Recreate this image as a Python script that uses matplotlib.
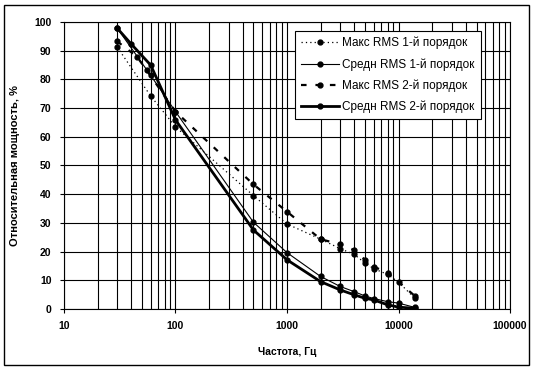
import matplotlib
matplotlib.use('Agg')
import matplotlib.pyplot as plt
from matplotlib.patches import Rectangle

plt.rcParams['font.family'] = ['Liberation Sans', 'DejaVu Sans']

# Макс RMS 1-й порядок (dotted)
f_max1 = [30, 60, 100, 500, 1000, 2000, 3000, 4000, 5000, 6000, 8000, 10000, 14000]
v_max1 = [91.3, 74.2, 63.5, 39.5, 29.6, 24.3, 21.0, 19.0, 16.0, 14.0, 12.0, 9.3, 3.7]

# Средн RMS 1-й порядок (thin solid)
f_avg1 = [30, 60, 100, 500, 1000, 2000, 3000, 4000, 5000, 6000, 8000, 10000, 14000]
v_avg1 = [97.9, 81.4, 68.8, 30.2, 19.6, 11.3, 7.8, 6.0, 4.5, 3.6, 2.5, 2.0, 0.5]

# Макс RMS 2-й порядок (dashed)
f_max2 = [30, 45, 55, 100, 500, 1000, 2000, 3000, 4000, 5000, 6000, 8000, 14000]
v_max2 = [93.3, 88.0, 83.3, 68.8, 43.4, 33.9, 24.3, 22.5, 20.5, 17.1, 14.7, 12.6, 4.5]

# Средн RMS 2-й порядок (thick solid)
f_avg2 = [30, 40, 60, 100, 500, 1000, 2000, 3000, 4000, 5000, 6000, 8000, 10000, 14000]
v_avg2 = [97.9, 92.4, 85.0, 65.9, 27.5, 17.1, 9.5, 6.6, 4.9, 3.7, 3.1, 1.4, 0.6, 0.2]

fig = plt.figure(figsize=(5.33, 3.69), dpi=100)
ax = fig.add_axes([0.120, 0.163, 0.837, 0.777])

ax.plot(f_max1, v_max1, color='black', lw=0.9, ls=(0, (1, 2.5)), marker='o', ms=3.5,
        label='Макс RMS 1-й порядок')
ax.plot(f_avg1, v_avg1, color='black', lw=0.8, ls='-', marker='o', ms=3.5,
        label='Средн RMS 1-й порядок')
ax.plot(f_max2, v_max2, color='black', lw=1.6, ls=(0, (2.5, 4)), marker='o', ms=3.5,
        label='Макс RMS 2-й порядок')
ax.plot(f_avg2, v_avg2, color='black', lw=2.0, ls='-', marker='o', ms=3.5,
        label='Средн RMS 2-й порядок')

ax.set_xscale('log')
ax.set_xlim(10, 100000)
ax.set_ylim(0, 100)
ax.set_yticks(range(0, 101, 10))
ax.set_xticks([10, 100, 1000, 10000, 100000])
ax.set_xticklabels(['10', '100', '1000', '10000', '100000'])
ax.minorticks_on()
ax.yaxis.set_tick_params(which='minor', left=False)
ax.xaxis.set_tick_params(which='minor', bottom=False)

ax.grid(True, which='major', color='black', lw=0.8)
ax.grid(True, which='minor', axis='x', color='black', lw=0.8)
for sp in ax.spines.values():
    sp.set_color('black')
    sp.set_linewidth(0.8)

ax.tick_params(axis='both', which='major', direction='out', length=3, width=0.8,
               labelsize=7.5, pad=6)
for lab in ax.get_xticklabels() + ax.get_yticklabels():
    lab.set_fontweight('bold')

ax.set_xlabel('Частота, Гц', fontsize=7.5, fontweight='bold', labelpad=11)
ax.set_ylabel('Относительная мощность, %', fontsize=8, fontweight='bold', labelpad=10)

leg = ax.legend(loc='upper left', bbox_to_anchor=(0.505, 0.99), fontsize=8.5,
                frameon=True, fancybox=False, framealpha=1, edgecolor='black',
                handlelength=3.2, borderpad=0.5, labelspacing=0.75, handletextpad=0.3)
leg.get_frame().set_linewidth(0.8)

fig.patches.append(Rectangle((0.008, 0.012), 0.984, 0.975, transform=fig.transFigure,
                             fill=False, edgecolor='black', lw=1.0))

fig.savefig('out.png', dpi=100)
